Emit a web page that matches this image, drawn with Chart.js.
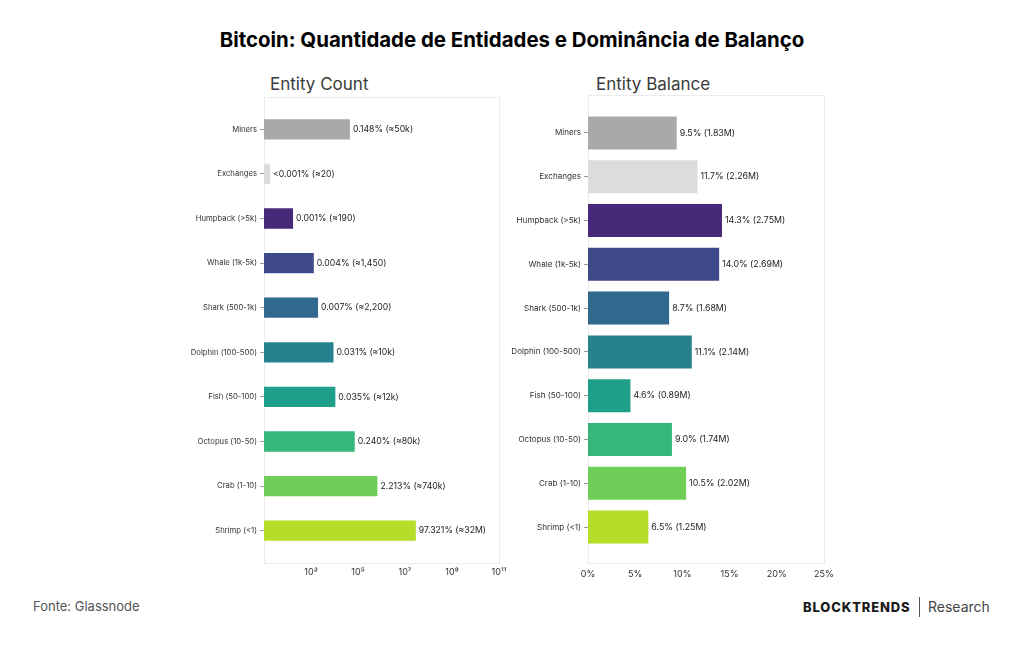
<!DOCTYPE html>
<html>
<head>
<meta charset="utf-8">
<script src="https://cdn.jsdelivr.net/npm/chart.js@4"></script>
<style>
  body { margin: 0; width: 1024px; height: 645px; background: #fff; font-family: Inter, "Noto Sans", sans-serif; overflow: hidden; }
  .abs { position: absolute; }
  #title { left: 0; width: 1024px; top: 27px; text-align: center; font-weight: 700; font-size: 20.4px; color: #000; }
  .sub { font-size: 17px; color: #3a3a3a; }
  #src { left: 33px; top: 598px; font-size: 13px; color: #555; }
  #brand { left: 803px; top: 599px; font-size: 13px; font-weight: 800; color: #1a1a1a; letter-spacing: 0.85px; }
  #sep { left: 919px; top: 597px; width: 1px; height: 20px; background: #555; }
  #research { left: 928px; top: 598px; font-size: 14px; color: #444; }
</style>
</head>
<body>
<div id="title" class="abs">Bitcoin: Quantidade de Entidades e Dominância de Balanço</div>
<div class="abs sub" style="left:270px; top:74px;">Entity Count</div>
<div class="abs sub" style="left:596px; top:74px;">Entity Balance</div>
<div class="abs" style="left:164px; top:97px; width:350px; height:486px;"><canvas id="countChart"></canvas></div>
<div class="abs" style="left:488px; top:95px; width:351px; height:488px;"><canvas id="balanceChart"></canvas></div>
<div id="src" class="abs">Fonte: Glassnode</div>
<div id="brand" class="abs">BLOCKTRENDS</div>
<div id="sep" class="abs"></div>
<div id="research" class="abs">Research</div>
<script>
// data
const categories = ['Miners', 'Exchanges', 'Humpback (>5k)', 'Whale (1k-5k)', 'Shark (500-1k)',
    'Dolphin (100-500)', 'Fish (50-100)', 'Octopus (10-50)', 'Crab (1-10)', 'Shrimp (<1)'];
const countValues = [50000, 20, 190, 1450, 2200, 10000, 12000, 80000, 740000, 32000000];
const countLabels = ['0.148% (≈50k)', '<0.001% (≈20)', '0.001% (≈190)', '0.004% (≈1,450)', '0.007% (≈2,200)',
    '0.031% (≈10k)', '0.035% (≈12k)', '0.240% (≈80k)', '2.213% (≈740k)', '97.321% (≈32M)'];
const balanceShare = [9.5, 11.7, 14.3, 14.0, 8.7, 11.1, 4.6, 9.0, 10.5, 6.5];
const balanceBtc = ['1.83M', '2.26M', '2.75M', '2.69M', '1.68M', '2.14M', '0.89M', '1.74M', '2.02M', '1.25M'];
const countTicks = [1e3, 1e5, 1e7, 1e9, 1e11];
const countTickLabels = ['10³', '10⁵', '10⁷', '10⁹', '10¹¹'];
const balanceTicks = [0, 5, 10, 15, 20, 25];
const barColors = ['#a9a9a9', '#dcdcdc', '#482878', '#3e4989', '#31688e',
    '#26828e', '#1f9e89', '#35b779', '#6ece58', '#b5de2b'];

const font = 'Inter, "Noto Sans", sans-serif';

// frame around the plot (a bit taller than the category band) + value labels at bar ends
const decorPlugin = {
    id: 'decor',
    beforeDraw(chart, args, opts) {
        const a = chart.chartArea;
        const ctx = chart.ctx;
        const top = Math.round(a.top - opts.padTop);
        const bottom = Math.round(a.bottom + opts.padBottom);
        ctx.save();
        ctx.strokeStyle = '#ebebeb';
        ctx.lineWidth = 1;
        ctx.strokeRect(Math.round(a.left) + 0.5, top + 0.5, Math.round(a.right - a.left), bottom - top);
        ctx.restore();
    },
    afterDatasetsDraw(chart, args, opts) {
        const ctx = chart.ctx;
        const meta = chart.getDatasetMeta(0);
        ctx.save();
        ctx.font = opts.size + 'px ' + font;
        ctx.fillStyle = '#222';
        ctx.textBaseline = 'middle';
        ctx.textAlign = 'left';
        meta.data.forEach((bar, i) => {
            ctx.fillText(opts.labels[i], bar.x + 2, bar.y);
        });
        ctx.restore();
    }
};

function yAxis(size) {
    return {
        ticks: { color: '#333', font: { family: font, size: size }, padding: 3 },
        grid: { display: true, offset: false, drawOnChartArea: false, drawTicks: true, tickLength: 4, color: '#999' },
        border: { display: false },
        afterFit(scale) { scale.width = 100; }
    };
}

new Chart(document.getElementById('countChart'), {
    type: 'bar',
    data: {
        labels: categories,
        datasets: [{
            data: countValues,
            backgroundColor: barColors,
            borderColor: 'rgba(255,255,255,0.6)',
            borderWidth: 1,
            categoryPercentage: 1,
            barPercentage: 0.5
        }]
    },
    options: {
        indexAxis: 'y',
        responsive: true,
        maintainAspectRatio: false,
        animation: false,
        layout: { padding: { top: 10, right: 15 } },
        plugins: {
            legend: { display: false },
            tooltip: { enabled: false },
            decor: { labels: countLabels, padTop: 10, padBottom: 10, size: 8.7 }
        },
        scales: {
            x: {
                type: 'logarithmic',
                min: 10,
                max: 1e11,
                afterBuildTicks(scale) {
                    scale.ticks = countTicks.map(v => ({ value: v }));
                },
                ticks: {
                    color: '#333',
                    font: { family: font, size: 9 },
                    maxRotation: 0,
                    autoSkip: false,
                    padding: 2,
                    callback: (v) => countTickLabels[countTicks.indexOf(v)] || ''
                },
                grid: { display: false, tickLength: 12 },
                border: { display: false },
                afterFit(scale) { scale.height = 30; }
            },
            y: yAxis(7.7)
        }
    },
    plugins: [decorPlugin]
});

new Chart(document.getElementById('balanceChart'), {
    type: 'bar',
    data: {
        labels: categories,
        datasets: [{
            data: balanceShare,
            backgroundColor: barColors,
            borderColor: 'rgba(255,255,255,0.6)',
            borderWidth: 1,
            categoryPercentage: 1,
            barPercentage: 0.8
        }]
    },
    options: {
        indexAxis: 'y',
        responsive: true,
        maintainAspectRatio: false,
        animation: false,
        layout: { padding: { top: 16, right: 15 } },
        plugins: {
            legend: { display: false },
            tooltip: { enabled: false },
            decor: {
                labels: balanceShare.map((v, i) => v.toFixed(1) + '% (' + balanceBtc[i] + ')'),
                padTop: 16, padBottom: 14, size: 8.8
            }
        },
        scales: {
            x: {
                min: 0,
                max: 25,
                afterBuildTicks(scale) {
                    scale.ticks = balanceTicks.map(v => ({ value: v }));
                },
                ticks: {
                    color: '#333',
                    font: { family: font, size: 9 },
                    maxRotation: 0,
                    padding: 2,
                    callback: (v) => v + '%'
                },
                grid: { display: false, tickLength: 18 },
                border: { display: false },
                afterFit(scale) { scale.height = 34; }
            },
            y: yAxis(8.1)
        }
    },
    plugins: [decorPlugin]
});
</script>
</body>
</html>
